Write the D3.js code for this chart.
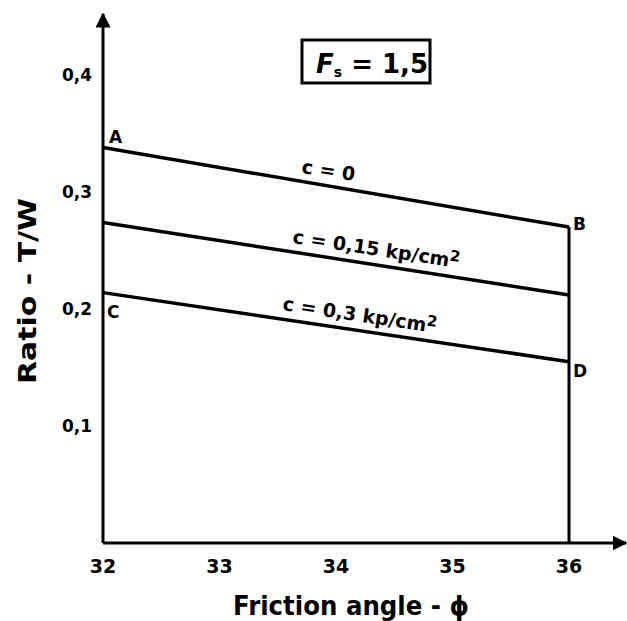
<!DOCTYPE html>
<html lang="en">
<head>
    <meta charset="UTF-8">
    <title>Ratio T/W vs friction angle</title>
    <script src="https://d3js.org/d3.v7.min.js"></script>
    <style>
        body { margin: 0; padding: 0; background: #fff; }
        svg { display: block; }
        text { font-family: "DejaVu Sans", sans-serif; fill: #000; }
    </style>
</head>
<body>
    <div id="chart"></div>
    <script>
        // data
        const angles = [32, 36];
        const xTicks = [32, 33, 34, 35, 36];
        const yTicks = [0.1, 0.2, 0.3, 0.4];
        const ratioC0 = [0.338, 0.270];     // c = 0        (A -> B)
        const ratioC015 = [0.274, 0.212];   // c = 0,15 kp/cm2
        const ratioC03 = [0.214, 0.155];    // c = 0,3 kp/cm2 (C -> D)
        const seriesNames = ["c = 0", "c = 0,15 kp/cm", "c = 0,3  kp/cm"];

        const width = 627, height = 621;
        const svg = d3.select("#chart").append("svg")
            .attr("width", width)
            .attr("height", height);

        const x = d3.scaleLinear().domain([32, 36]).range([103, 569]);
        const y = d3.scaleLinear().domain([0, 0.4]).range([543, 75]);

        // axes with arrows
        svg.append("defs").append("marker")
            .attr("id", "arrow")
            .attr("viewBox", "0 0 10 10")
            .attr("refX", 9).attr("refY", 5)
            .attr("markerWidth", 5).attr("markerHeight", 5)
            .attr("orient", "auto")
            .append("path")
            .attr("d", "M0,0 L10,5 L0,10 Z")
            .attr("fill", "#000");

        svg.append("line")
            .attr("x1", x(32)).attr("y1", y(0))
            .attr("x2", x(32)).attr("y2", 14)
            .attr("stroke", "#000").attr("stroke-width", 3)
            .attr("marker-end", "url(#arrow)");
        svg.append("line")
            .attr("x1", x(32)).attr("y1", y(0))
            .attr("x2", 626).attr("y2", y(0))
            .attr("stroke", "#000").attr("stroke-width", 3)
            .attr("marker-end", "url(#arrow)");

        // tick labels
        svg.selectAll(".xt").data(xTicks).enter().append("text")
            .attr("class", "xt")
            .attr("x", d => x(d))
            .attr("y", 573)
            .attr("text-anchor", "middle")
            .attr("font-size", 19)
            .attr("font-weight", "bold")
            .text(d => d);

        svg.selectAll(".yt").data(yTicks).enter().append("text")
            .attr("class", "yt")
            .attr("x", 92)
            .attr("y", d => y(d) + 6)
            .attr("text-anchor", "end")
            .attr("font-size", 17)
            .attr("font-weight", "bold")
            .text(d => d3.format(".1f")(d).replace(".", ","));

        // vertical line at 36 from B down to the axis
        svg.append("line")
            .attr("x1", x(36)).attr("y1", y(ratioC0[1]))
            .attr("x2", x(36)).attr("y2", y(0))
            .attr("stroke", "#000").attr("stroke-width", 3);

        const line = d3.line()
            .x((d, i) => x(angles[i]))
            .y(d => y(d));

        [ratioC0, ratioC015, ratioC03].forEach(s => {
            svg.append("path")
                .datum(s)
                .attr("d", line)
                .attr("fill", "none")
                .attr("stroke", "#000")
                .attr("stroke-width", 3.5);
        });

        // curve labels, tilted along the lines
        const labelPos = [
            { x: 301, y: 173, sup: false },
            { x: 292, y: 243, sup: true },
            { x: 282, y: 310, sup: true }
        ];
        seriesNames.forEach((name, i) => {
            const p = labelPos[i];
            const t = svg.append("text")
                .attr("transform", `translate(${p.x},${p.y}) rotate(8.5)`)
                .attr("font-size", 19)
                .attr("font-weight", "bold");
            t.append("tspan").text(name);
            if (p.sup) {
                t.append("tspan").attr("dy", -6).attr("font-size", 15).text("2");
            }
        });

        // point letters
        const points = [
            { k: "A", x: 109, y: 143 },
            { k: "B", x: 573, y: 230 },
            { k: "C", x: 107, y: 318 },
            { k: "D", x: 573, y: 377 }
        ];
        svg.selectAll(".pt").data(points).enter().append("text")
            .attr("class", "pt")
            .attr("x", d => d.x)
            .attr("y", d => d.y)
            .attr("font-size", 17)
            .attr("font-weight", "bold")
            .text(d => d.k);

        // Fs box
        svg.append("rect")
            .attr("x", 302).attr("y", 40)
            .attr("width", 128).attr("height", 43)
            .attr("fill", "none")
            .attr("stroke", "#000").attr("stroke-width", 3);
        const fs = svg.append("text")
            .attr("x", 316).attr("y", 73)
            .attr("font-size", 26)
            .attr("font-weight", "bold");
        fs.append("tspan").attr("font-style", "italic").text("F");
        fs.append("tspan").attr("font-size", 14).attr("dy", 4).text("s");
        fs.append("tspan").attr("dy", -4).text(" = 1,5");

        // axis titles
        svg.append("text")
            .attr("transform", "translate(36,291) rotate(-90)")
            .attr("text-anchor", "middle")
            .attr("font-size", 24)
            .attr("font-weight", "bold")
            .attr("textLength", 186)
            .attr("lengthAdjust", "spacingAndGlyphs")
            .text("Ratio - T/W");

        svg.append("text")
            .attr("x", 233).attr("y", 615)
            .attr("font-size", 27)
            .attr("font-weight", "bold")
            .attr("textLength", 236)
            .attr("lengthAdjust", "spacingAndGlyphs")
            .text("Friction angle - ϕ");
    </script>
</body>
</html>
